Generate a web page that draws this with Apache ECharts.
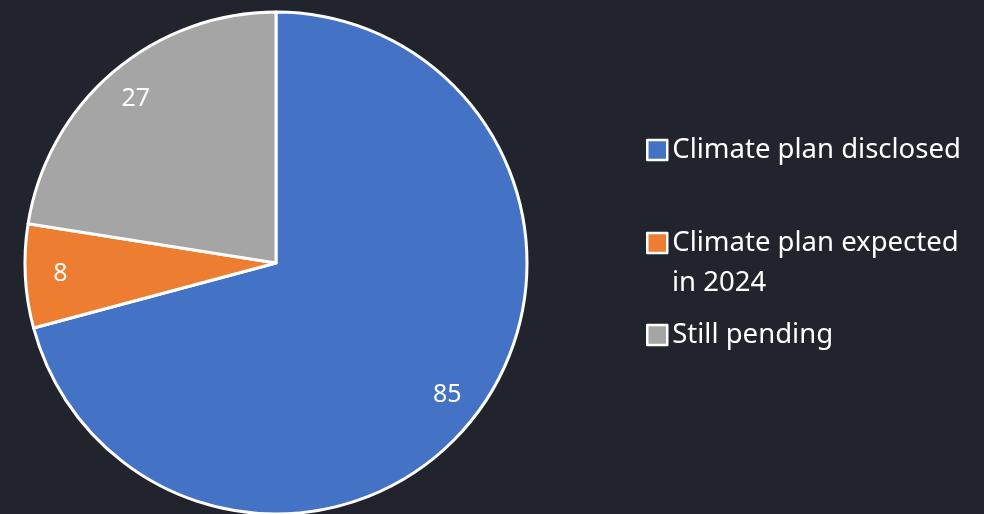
<!DOCTYPE html>
<html>
<head>
<meta charset="utf-8">
<script src="https://cdn.jsdelivr.net/npm/echarts@6/dist/echarts.min.js"></script>
<style>
  html, body { margin: 0; padding: 0; background: #21242d; }
  #chart { width: 984px; height: 514px; }
</style>
</head>
<body>
<div id="chart"></div>
<script>
const categories = ["Climate plan disclosed", "Climate plan expected in 2024", "Still pending"];
const legendLines = [["Climate plan disclosed"], ["Climate plan expected", "in 2024"], ["Still pending"]];
const values = [85, 8, 27];
const colors = ["#4472c4", "#ed7d31", "#a5a5a5"];

const font = "'Noto Sans', sans-serif";
const data = categories.map((name, i) => ({ name: name, value: values[i], itemStyle: { color: colors[i] } }));

// one legend per item so the uneven spacing of the original can be kept;
// the icon lines up with the first line of a wrapped name
function legendFor(i, top) {
  return {
    data: [categories[i]],
    orient: "vertical",
    left: 646,
    top: top,
    padding: 0,
    itemWidth: 20,
    itemHeight: 20,
    itemGap: 0,
    icon: "rect",
    itemStyle: { borderColor: "#ffffff", borderWidth: 2.5 },
    selectedMode: false,
    formatter: () => legendLines[i][0],
    textStyle: { color: "#ffffff", fontFamily: font, fontSize: 27.5, lineHeight: 40 }
  };
}

const chart = echarts.init(document.getElementById("chart"));
chart.setOption({
  backgroundColor: "#21242d",
  animation: false,
  legend: [legendFor(0, 130), legendFor(1, 223), legendFor(2, 315)],
  graphic: [{
    type: "text",
    left: 672,
    top: 263,
    style: { text: legendLines[1][1], fill: "#ffffff", font: "27.5px " + font, lineHeight: 40 }
  }],
  series: [
    {
      type: "pie",
      center: [276, 263],
      radius: 251,
      startAngle: 90,
      clockwise: true,
      data: data,
      label: { show: false },
      labelLine: { show: false },
      itemStyle: { borderColor: "#ffffff", borderWidth: 3 },
      emphasis: { disabled: true }
    },
    {
      // transparent ring, only used to place the value labels near the rim
      type: "pie",
      center: [276, 263],
      radius: [175, 251],
      startAngle: 90,
      clockwise: true,
      silent: true,
      data: categories.map((name, i) => ({ name: name, value: values[i] })),
      itemStyle: { color: "transparent", borderWidth: 0 },
      label: {
        show: true,
        position: "inside",
        color: "#ffffff",
        fontFamily: font,
        fontSize: 25,
        formatter: "{c}"
      },
      labelLine: { show: false },
      emphasis: { disabled: true }
    }
  ]
});
</script>
</body>
</html>
